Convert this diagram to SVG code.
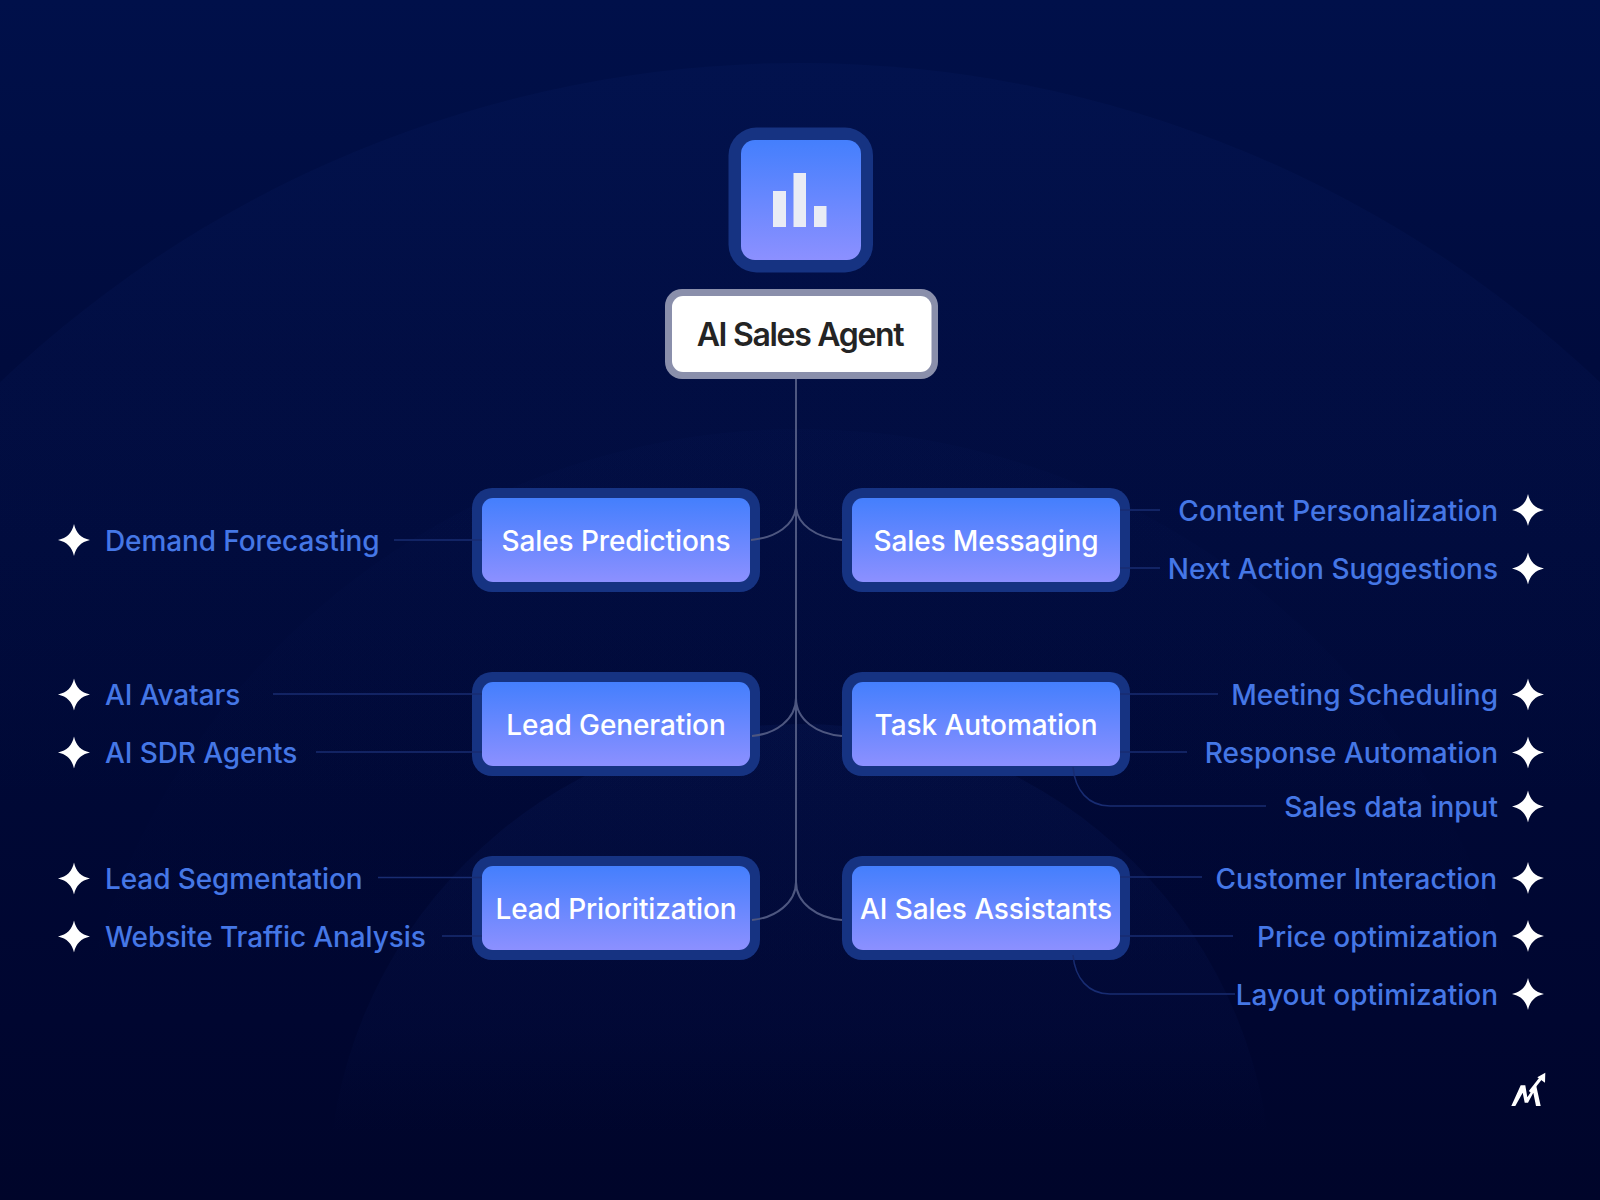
<svg xmlns="http://www.w3.org/2000/svg" width="1600" height="1200" viewBox="0 0 1600 1200">
<defs>
<linearGradient id="bg" x1="0" y1="0" x2="0" y2="1"><stop offset="0" stop-color="#00104a"/><stop offset="0.3" stop-color="#000b3d"/><stop offset="0.6" stop-color="#000937"/><stop offset="0.85" stop-color="#000630"/><stop offset="1" stop-color="#00052a"/></linearGradient>
<linearGradient id="arc1" gradientUnits="userSpaceOnUse" x1="0" y1="60" x2="0" y2="800"><stop offset="0" stop-color="#1a3a9c" stop-opacity="0.07"/><stop offset="0.5" stop-color="#1a3a9c" stop-opacity="0.06"/><stop offset="1" stop-color="#1a3a9c" stop-opacity="0"/></linearGradient>
<linearGradient id="arc2" gradientUnits="userSpaceOnUse" x1="0" y1="430" x2="0" y2="1000"><stop offset="0" stop-color="#1a3a9c" stop-opacity="0.03"/><stop offset="1" stop-color="#1a3a9c" stop-opacity="0"/></linearGradient>
<linearGradient id="arc3" gradientUnits="userSpaceOnUse" x1="0" y1="724" x2="0" y2="1135"><stop offset="0" stop-color="#1a3a9c" stop-opacity="0.1"/><stop offset="0.75" stop-color="#1a3a9c" stop-opacity="0.05"/><stop offset="1" stop-color="#1a3a9c" stop-opacity="0"/></linearGradient>
<linearGradient id="btn" x1="0" y1="0" x2="0" y2="1"><stop offset="0" stop-color="#447ffd"/><stop offset="1" stop-color="#8c90ff"/></linearGradient>
<path id="star" d="M0-16C2-7 7-2 16 0C7 2 2 7 0 16C-2 7-7 2-16 0C-7-2-2-7 0-16Z" fill="#fff"/>
<style>
.halo{fill:#163382}
.face{fill:url(#btn)}
.t{font-family:Inter,"Liberation Sans",sans-serif;font-weight:500;letter-spacing:-0.1px}
.nt{font-size:28px;fill:#fff;text-anchor:middle}
.lf{font-size:28px;fill:#4577e6}
.end{text-anchor:end;letter-spacing:0}
.lk{fill:none;stroke:#182c72;stroke-width:1.5}
.tr{fill:none;stroke:#4e5780;stroke-width:2}
</style>
</defs>
<rect width="1600" height="1200" fill="url(#bg)"/>
<g id="background"><circle cx="800" cy="1225" r="1162" fill="url(#arc1)"/><circle cx="800" cy="1165" r="736" fill="url(#arc2)"/><circle cx="800" cy="1196" r="472" fill="url(#arc3)"/></g>
<g id="icon"><rect x="728.500" y="127.500" width="144.500" height="145" rx="28" class="halo"/><rect x="741" y="140" width="120" height="120" rx="14" class="face"/><path d="M773 191H786V227H773ZM793.500 173H806V227H793.500ZM814 206H826.500V227H814Z" fill="#e9ecf5"/></g>
<g id="root"><rect x="665" y="289" width="273" height="90" rx="17" fill="#8a8fab"/><rect x="672" y="296" width="259.500" height="76" rx="11" fill="#fff"/><text x="800" y="346" class="t" font-size="32" style="font-weight:600;letter-spacing:-1.3px" fill="#242424" text-anchor="middle">AI Sales Agent</text></g>
<g id="n1"><rect x="472" y="488" width="288" height="104" rx="20" class="halo"/><rect x="482" y="498" width="268" height="84" rx="11" class="face"/><text x="616" y="551" class="t nt">Sales Predictions</text></g>
<g id="n2"><rect x="842" y="488" width="288" height="104" rx="20" class="halo"/><rect x="852" y="498" width="268" height="84" rx="11" class="face"/><text x="986" y="551" class="t nt">Sales Messaging</text></g>
<g id="n3"><rect x="472" y="672" width="288" height="104" rx="20" class="halo"/><rect x="482" y="682" width="268" height="84" rx="11" class="face"/><text x="616" y="735" class="t nt">Lead Generation</text></g>
<g id="n4"><rect x="842" y="672" width="288" height="104" rx="20" class="halo"/><rect x="852" y="682" width="268" height="84" rx="11" class="face"/><text x="986" y="735" class="t nt">Task Automation</text></g>
<g id="n5"><rect x="472" y="856" width="288" height="104" rx="20" class="halo"/><rect x="482" y="866" width="268" height="84" rx="11" class="face"/><text x="616" y="919" class="t nt">Lead Prioritization</text></g>
<g id="n6"><rect x="842" y="856" width="288" height="104" rx="20" class="halo"/><rect x="852" y="866" width="268" height="84" rx="11" class="face"/><text x="986" y="919" class="t nt">AI Sales Assistants</text></g>
<g id="l1"><use href="#star" x="74" y="540"/><text x="105" y="551" class="t lf">Demand Forecasting</text></g>
<g id="l2"><use href="#star" x="74" y="694.500"/><text x="105" y="705" class="t lf">AI Avatars</text></g>
<g id="l3"><use href="#star" x="74" y="752.500"/><text x="105" y="763" class="t lf">AI SDR Agents</text></g>
<g id="l4"><use href="#star" x="74" y="878.500"/><text x="105" y="889" class="t lf">Lead Segmentation</text></g>
<g id="l5"><use href="#star" x="74" y="936.500"/><text x="105" y="947" class="t lf">Website Traffic Analysis</text></g>
<g id="r1"><use href="#star" x="1528" y="510"/><text x="1498" y="521" class="t lf end">Content Personalization</text></g>
<g id="r2"><use href="#star" x="1528" y="568.500"/><text x="1498" y="579" class="t lf end">Next Action Suggestions</text></g>
<g id="r3"><use href="#star" x="1528" y="694.500"/><text x="1498" y="705" class="t lf end">Meeting Scheduling</text></g>
<g id="r4"><use href="#star" x="1528" y="752.500"/><text x="1498" y="763" class="t lf end">Response Automation</text></g>
<g id="r5"><use href="#star" x="1528" y="806.500"/><text x="1498" y="817" class="t lf end">Sales data input</text></g>
<g id="r6"><use href="#star" x="1528" y="878"/><text x="1497" y="889" class="t lf end">Customer Interaction</text></g>
<g id="r7"><use href="#star" x="1528" y="936"/><text x="1498" y="947" class="t lf end">Price optimization</text></g>
<g id="r8"><use href="#star" x="1528" y="994"/><text x="1498" y="1005" class="t lf end">Layout optimization</text></g>
<g id="connectors">
<path class="tr" d="M796 379V885"/>
<path class="tr" d="M796 505C796 525 775 538 751 540M796 505C796 525 817 538 842 540M796 698C796 720 775 734 752 736M796 698C796 720 817 734 842 736M796 882C796 903 775 918 752 920M796 882C796 903 817 918 842 920"/>
<path class="lk" d="M394 540H482M273 694H482M316 752H482M378 877.500H482M442 936H482M1120 510H1160M1120 568H1160M1120 694H1218M1120 752H1187M1073 767C1075 790 1088 806 1110 806H1266M1120 877H1202M1120 936H1233M1073 955C1075 978 1088 994 1110 994H1235"/>
</g>
<g id="logo" fill="#fff"><path d="M1511.300 1106L1520.700 1085.300H1525.300L1527.300 1097.300L1536 1084.700L1540.700 1106H1536L1533.300 1092.700L1528 1102.700H1524.700L1522.700 1092.700L1515.300 1106ZM1545.300 1072.700L1545 1082.700L1537.300 1077.300Z"/><path d="M1530 1092L1541 1078" fill="none" stroke="#fff" stroke-width="3"/></g>
</svg>
